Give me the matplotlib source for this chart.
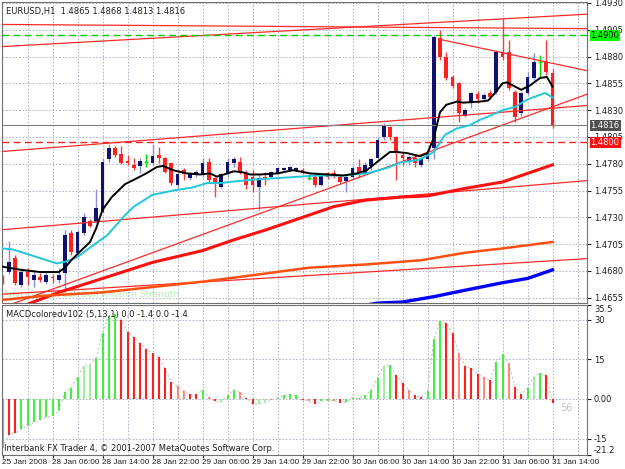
import numpy as np
import matplotlib.pyplot as plt

# EURUSD H1 candles, bar 0 = 25 Jan 2008 (left edge), bar 88 = 31 Jan 14:00
opens = [1.4673, 1.4679, 1.4692, 1.4667, 1.4679, 1.4672, 1.4674, 1.4670, 1.4674, 1.4672,
         1.4678, 1.4715, 1.4697, 1.4715, 1.4727, 1.4726, 1.4735, 1.4784, 1.4795, 1.4789,
         1.4783, 1.4779, 1.4778, 1.4782, 1.4781, 1.4788, 1.4785, 1.4781, 1.4760, 1.4774,
         1.4767, 1.4770, 1.4770, 1.4782, 1.4767, 1.4758, 1.4770, 1.4781, 1.4782, 1.4771,
         1.4768, 1.4758, 1.4768, 1.4768, 1.4771, 1.4774, 1.4774, 1.4774, 1.4774, 1.4767,
         1.4768, 1.4760, 1.4771, 1.4771, 1.4768, 1.4764, 1.4768, 1.4777, 1.4771, 1.4778,
         1.4785, 1.4805, 1.4814, 1.4805, 1.4788, 1.4782, 1.4785, 1.4779, 1.4784, 1.4795,
         1.4897, 1.4880, 1.4861, 1.4855, 1.4825, 1.4837, 1.4845, 1.4840, 1.4846, 1.4847,
         1.4884, 1.4884, 1.4847, 1.4827, 1.4846, 1.4860, 1.4875, 1.4875, 1.4865]
highs = [1.4676, 1.4708, 1.4695, 1.4683, 1.4683, 1.4681, 1.4678, 1.4679, 1.4677, 1.4683,
         1.4718, 1.4718, 1.4718, 1.4734, 1.4728, 1.4756, 1.4785, 1.4798, 1.4797, 1.4797,
         1.4788, 1.4785, 1.4785, 1.4789, 1.4798, 1.4796, 1.4786, 1.4781, 1.4774, 1.4776,
         1.4772, 1.4774, 1.4785, 1.4785, 1.4768, 1.4771, 1.4785, 1.4786, 1.4786, 1.4774,
         1.4774, 1.4770, 1.4772, 1.4773, 1.4777, 1.4777, 1.4778, 1.4777, 1.4776, 1.4770,
         1.4770, 1.4771, 1.4772, 1.4774, 1.4770, 1.4770, 1.4778, 1.4784, 1.4782, 1.4785,
         1.4805, 1.4818, 1.4815, 1.4806, 1.4791, 1.4788, 1.4787, 1.4786, 1.4793, 1.4900,
         1.4905, 1.4884, 1.4863, 1.4856, 1.4832, 1.4847, 1.4848, 1.4846, 1.4849, 1.4886,
         1.4916, 1.4895, 1.4849, 1.4847, 1.4866, 1.4883, 1.4881, 1.4895, 1.4868]
lows = [1.4668, 1.4677, 1.4667, 1.4665, 1.4667, 1.4665, 1.4670, 1.4668, 1.4669, 1.4669,
        1.4660, 1.4695, 1.4695, 1.4714, 1.4721, 1.4725, 1.4734, 1.4782, 1.4786, 1.4780,
        1.4779, 1.4774, 1.4771, 1.4777, 1.4779, 1.4781, 1.4771, 1.4760, 1.4757, 1.4765,
        1.4765, 1.4768, 1.4768, 1.4762, 1.4749, 1.4757, 1.4768, 1.4777, 1.4770, 1.4756,
        1.4754, 1.4737, 1.4760, 1.4767, 1.4770, 1.4773, 1.4773, 1.4773, 1.4770, 1.4765,
        1.4758, 1.4759, 1.4766, 1.4767, 1.4762, 1.4754, 1.4766, 1.4768, 1.4770, 1.4774,
        1.4784, 1.4802, 1.4802, 1.4765, 1.4779, 1.4779, 1.4777, 1.4777, 1.4783, 1.4784,
        1.4877, 1.4858, 1.4851, 1.4819, 1.4824, 1.4832, 1.4837, 1.4838, 1.4840, 1.4845,
        1.4877, 1.4849, 1.4819, 1.4825, 1.4844, 1.4858, 1.4860, 1.4863, 1.4813]
closes = [1.4670, 1.4688, 1.4669, 1.4679, 1.4674, 1.4676, 1.4672, 1.4676, 1.4673, 1.4676,
          1.4714, 1.4698, 1.4716, 1.4730, 1.4722, 1.4739, 1.4782, 1.4795, 1.4788, 1.4781,
          1.4781, 1.4776, 1.4783, 1.4782, 1.4787, 1.4785, 1.4772, 1.4762, 1.4770, 1.4770,
          1.4770, 1.4772, 1.4781, 1.4765, 1.4763, 1.4770, 1.4782, 1.4784, 1.4772, 1.4760,
          1.4760, 1.4767, 1.4766, 1.4772, 1.4776, 1.4776, 1.4777, 1.4776, 1.4771, 1.4767,
          1.4760, 1.4770, 1.4768, 1.4769, 1.4763, 1.4768, 1.4776, 1.4770, 1.4779, 1.4784,
          1.4802, 1.4816, 1.4805, 1.4790, 1.4785, 1.4786, 1.4781, 1.4784, 1.4790, 1.4898,
          1.4880, 1.4860, 1.4853, 1.4827, 1.4830, 1.4846, 1.4840, 1.4844, 1.4842, 1.4884,
          1.4880, 1.4851, 1.4824, 1.4846, 1.4861, 1.4875, 1.4875, 1.4866, 1.4816]

# fast MA (black) and slow MA (cyan), read as (bar, price)
black_bars = [0, 3, 6, 9, 10, 11, 12.4, 14, 15, 16, 17.5, 19.6, 21, 23, 24.7, 25.7, 27.3, 29.5,
              31.6, 33.2, 34.3, 36, 37, 38.5, 39.6, 41.2, 44, 46.5, 49.2, 52, 54.5, 56.7, 58.3,
              60, 62, 63, 64.7, 66.8, 68, 69, 70, 71, 72.7, 73.7, 76.4, 77.7, 78.8, 80, 80.7,
              82, 83, 84.4, 86, 87.1, 88]
black_vals = [1.4684, 1.4681, 1.4679, 1.4679, 1.4683, 1.4690, 1.4698, 1.4707, 1.4720, 1.4737,
              1.4749, 1.4761, 1.4765, 1.4771, 1.4777, 1.4778, 1.4774, 1.4771, 1.4770, 1.4771,
              1.4768, 1.4771, 1.4773, 1.4772, 1.4770, 1.4770, 1.4771, 1.4774, 1.4771, 1.4770,
              1.4769, 1.4771, 1.4774, 1.4782, 1.4791, 1.4791, 1.4790, 1.4787, 1.4790, 1.4804,
              1.4828, 1.4835, 1.4838, 1.4837, 1.4838, 1.4839, 1.4846, 1.4855, 1.4856, 1.4852,
              1.4849, 1.4853, 1.4860, 1.4861, 1.4852]
cyan_bars = [0, 1.7, 6, 8.7, 10.3, 12, 14.5, 16.7, 19.6, 21, 24, 27.3, 30.5, 32.7, 34.8, 39.6,
             45, 50.3, 54, 58.3, 61.5, 63.6, 66.8, 69, 70.8, 72.7, 74.8, 76.4, 77.7, 80, 82,
             84, 86.8, 88]
cyan_vals = [1.4701, 1.4700, 1.4692, 1.4687, 1.4689, 1.4693, 1.4704, 1.4713, 1.4732, 1.4740,
             1.4751, 1.4755, 1.4758, 1.4762, 1.4762, 1.4765, 1.4767, 1.4769, 1.4769, 1.4771,
             1.4776, 1.4781, 1.4784, 1.4791, 1.4807, 1.4813, 1.4816, 1.4821, 1.4824, 1.4830,
             1.4833, 1.4840, 1.4846, 1.4842]

# long moving averages
red_ma_bars = [4, 9, 16, 24, 32, 37, 42, 48, 53, 58, 64, 68, 74, 80, 83, 88]
red_ma_vals = [1.4649, 1.4660, 1.4673, 1.4688, 1.4699, 1.4709, 1.4718, 1.4730, 1.4740, 1.4746,
               1.4749, 1.4750, 1.4757, 1.4763, 1.4769, 1.4779]
orange_ma_bars = [0, 7, 16, 24, 32, 40, 49, 58, 67, 74, 80, 88]
orange_ma_vals = [1.4653, 1.4657, 1.4660, 1.4665, 1.4670, 1.4676, 1.4683, 1.4686, 1.4690,
                  1.4697, 1.4701, 1.4707]
blue_ma_bars = [58, 60, 64, 69, 74, 80, 84, 88]
blue_ma_vals = [1.4648, 1.4650, 1.4651, 1.4656, 1.4662, 1.4669, 1.4673, 1.4681]

# trend lines: (bar start, bar end), (price start, price end)
trend_lines = [
    ([-1, 95], [1.4889, 1.4920]),
    ([-1, 95], [1.4910, 1.4906]),
    ([70, 95], [1.4896, 1.4865]),
    ([-1, 95], [1.4791, 1.4835]),
    ([-1, 95], [1.4718, 1.4765]),
    ([0, 95], [1.4646, 1.4848]),
    ([-1, 95], [1.4658, 1.4692]),
]

# MACD histogram
macd = [-18.5, -13.6, -13.0, -11.5, -10.2, -8.9, -8.0, -7.0, -6.4, -4.5,
        2.5, 4.2, 8.3, 12.5, 13.0, 15.6, 24.8, 31.4, 32.2, 29.9,
        25.4, 23.3, 21.2, 19.0, 17.2, 15.9, 11.5, 6.4, 4.7, 2.9,
        1.7, 1.9, 3.2, 0.9, -0.9, -1.3, 1.3, 3.4, 2.5, 0.5,
        -1.9, -1.9, -1.3, -0.4, 0.4, 1.3, 1.7, 1.3, -0.4, -0.8,
        -1.9, -0.9, -0.6, -0.6, -1.4, -1.3, 0.4, 0.3, 1.3, 3.2,
        8.0, 12.4, 12.7, 8.9, 6.0, 3.4, 1.3, 0.6, 2.9, 22.5,
        29.6, 28.6, 24.8, 17.4, 12.4, 11.5, 9.5, 8.3, 7.0, 14.0,
        16.9, 13.4, 4.5, 1.9, 4.2, 8.3, 9.8, 8.9, -1.4]
macd_col = ["g", "r", "r", "g", "g", "g", "g", "g", "g", "g",
            "g", "g", "g", "l", "l", "g", "g", "g", "g", "r",
            "r", "r", "r", "r", "r", "r", "r", "r", "s", "s",
            "r", "r", "g", "s", "r", "l", "g", "g", "s", "r",
            "r", "l", "l", "s", "g", "g", "g", "g", "r", "s",
            "r", "g", "g", "s", "r", "g", "g", "g", "g", "g",
            "g", "l", "g", "r", "r", "s", "r", "r", "g", "g",
            "g", "r", "r", "s", "r", "r", "r", "s", "r", "g",
            "g", "s", "r", "r", "g", "l", "g", "r", "r"]

price_ticks = [1.4655, 1.4680, 1.4705, 1.4730, 1.4755, 1.4780, 1.4805, 1.4830, 1.4855,
               1.4880, 1.4905, 1.4930]
time_labels = ["25 Jan 2008", "28 Jan 06:00", "28 Jan 14:00", "28 Jan 22:00", "29 Jan 06:00",
               "29 Jan 14:00", "29 Jan 22:00", "30 Jan 06:00", "30 Jan 14:00", "30 Jan 22:00",
               "31 Jan 06:00", "31 Jan 14:00"]

grid_kw = dict(color="#a4a8bc", lw=0.6, linestyle=(0, (2, 2)), zorder=0)
fs = 6

fig = plt.figure(figsize=(6.25, 4.69), dpi=100)
ax = fig.add_axes([2 / 625, 1 - 303 / 469, 585 / 625, 301 / 469])
ax2 = fig.add_axes([2 / 625, 1 - 455 / 469, 585 / 625, 150 / 469])

xmin, xmax = -0.08, 93.52
for a in (ax, ax2):
    a.set_xlim(xmin, xmax)
    for s in a.spines.values():
        s.set_color("#707070")
        s.set_linewidth(0.8)
    for b in range(4, 94, 4):
        a.axvline(b, **grid_kw)

# ---- price panel ----
ax.set_ylim(1.46501, 1.49309)
for p in price_ticks:
    ax.axhline(p, **grid_kw)

idx = np.arange(len(opens))
o = np.array(opens); h = np.array(highs); l = np.array(lows); c = np.array(closes)
up = c > o
dn = c < o
dj = c == o
ax.vlines(idx[up], l[up], h[up], color="#8c8cd8", lw=1, zorder=2)
ax.vlines(idx[dn], l[dn], h[dn], color="#ff3c3c", lw=1, zorder=2)
ax.vlines(idx[dj], l[dj], h[dj], color="#00dd00", lw=1, zorder=2)
ax.bar(idx[up], (c - o)[up], bottom=o[up], width=0.62, color="#10106e", lw=0, zorder=2)
ax.bar(idx[dn], (o - c)[dn], bottom=c[dn], width=0.62, color="#ff2020", lw=0, zorder=2)
ax.hlines(c[dj], idx[dj] - 0.3, idx[dj] + 0.3, color="#00dd00", lw=1, zorder=2)

for xs, ys in trend_lines:
    ax.plot(xs, ys, color="#ff2a2a", lw=0.9, zorder=3)
ax.plot(red_ma_bars, red_ma_vals, color="#ff1010", lw=2.2, zorder=3)
ax.plot(orange_ma_bars, orange_ma_vals, color="#ff5010", lw=1.8, zorder=3)
ax.plot(blue_ma_bars, blue_ma_vals, color="#0000ff", lw=2.4, zorder=3)
ax.plot(cyan_bars, cyan_vals, color="#20c8d8", lw=1.4, zorder=4)
ax.plot(black_bars, black_vals, color="black", lw=1.4, zorder=4)

ax.axhline(1.4900, color="#00cc00", lw=1, dashes=(5, 3), zorder=3)
ax.axhline(1.4800, color="#ff2020", lw=1, dashes=(5, 3), zorder=3)
ax.axhline(1.4816, color="#808080", lw=0.8, zorder=3)

ax.yaxis.tick_right()
ax.set_yticks(price_ticks)
ax.set_yticklabels([f"{p:.4f}" for p in price_ticks])
ax.tick_params(axis="y", labelsize=fs, length=3, pad=2, colors="#202020")
ax.set_xticks([])

ytr = ax.get_yaxis_transform()
for val, fc, tc in [(1.4900, "#00ff00", "black"), (1.4816, "#505050", "white"),
                    (1.4800, "#ff1010", "white")]:
    ax.text(1.006, val, f"{val:.4f}", transform=ytr, fontsize=fs, color=tc, va="center",
            ha="left", clip_on=False, zorder=6,
            bbox=dict(boxstyle="square,pad=0.12", fc=fc, ec="none"))

ax.text(0.006, 0.985, "EURUSD,H1  1.4865 1.4868 1.4813 1.4816", transform=ax.transAxes,
        fontsize=fs, va="top", ha="left", color="#202020")
ax.text(0.002, 0.012, "Anycomd-1 Peak Bull Rhythm Strength", transform=ax.transAxes,
        fontsize=fs + 0.5, va="bottom", ha="left", color="#b8ecb8", zorder=1)

# ---- MACD panel ----
ax2.set_ylim(-21.2, 35.5)
for v in (-15, 0, 15, 30):
    ax2.axhline(v, **grid_kw)
cmap = {"g": "#44ee44", "l": "#a0eea0", "r": "#ff2020", "s": "#ff8878"}
ax2.vlines(idx, 0, macd, colors=[cmap[k] for k in macd_col], lw=1.5, zorder=2)
ax2.plot(idx, macd, color="#c8c8c8", lw=0.8, dashes=(2, 2), zorder=1)

ax2.yaxis.tick_right()
ax2.set_yticks([-21.2, -15, 0, 15, 30, 35.5])
ax2.set_yticklabels(["-21.2", "-15", "0.00", "15", "30", "35.5"])
ax2.tick_params(axis="y", labelsize=fs, length=3, pad=2, colors="#202020")
ylabels = ax2.get_yticklabels()
ylabels[0].set_va("bottom")
ylabels[-1].set_va("top")
ax2.set_xticks(np.arange(0, 89, 8))
ax2.set_xticklabels(time_labels, ha="left", family="Liberation Sans", fontsize=5.9)
ax2.tick_params(axis="x", length=2, pad=1, colors="#202020")

ax2.text(0.006, 0.965, "MACDcoloredv102 (5,13,1) 0.0 -1.4 0.0 -1.4", transform=ax2.transAxes,
         fontsize=fs, va="top", ha="left", color="#202020")
ax2.text(0.004, 0.015, "Interbank FX Trader 4, \u00a9 2001-2007 MetaQuotes Software Corp.",
         transform=ax2.transAxes, fontsize=fs, va="bottom", ha="left", color="#202020")
ax2.text(89.3, -3.5, "56", fontsize=7, color="#c0c0c0", va="center", ha="left")

fig.savefig("out.png", dpi=100)
